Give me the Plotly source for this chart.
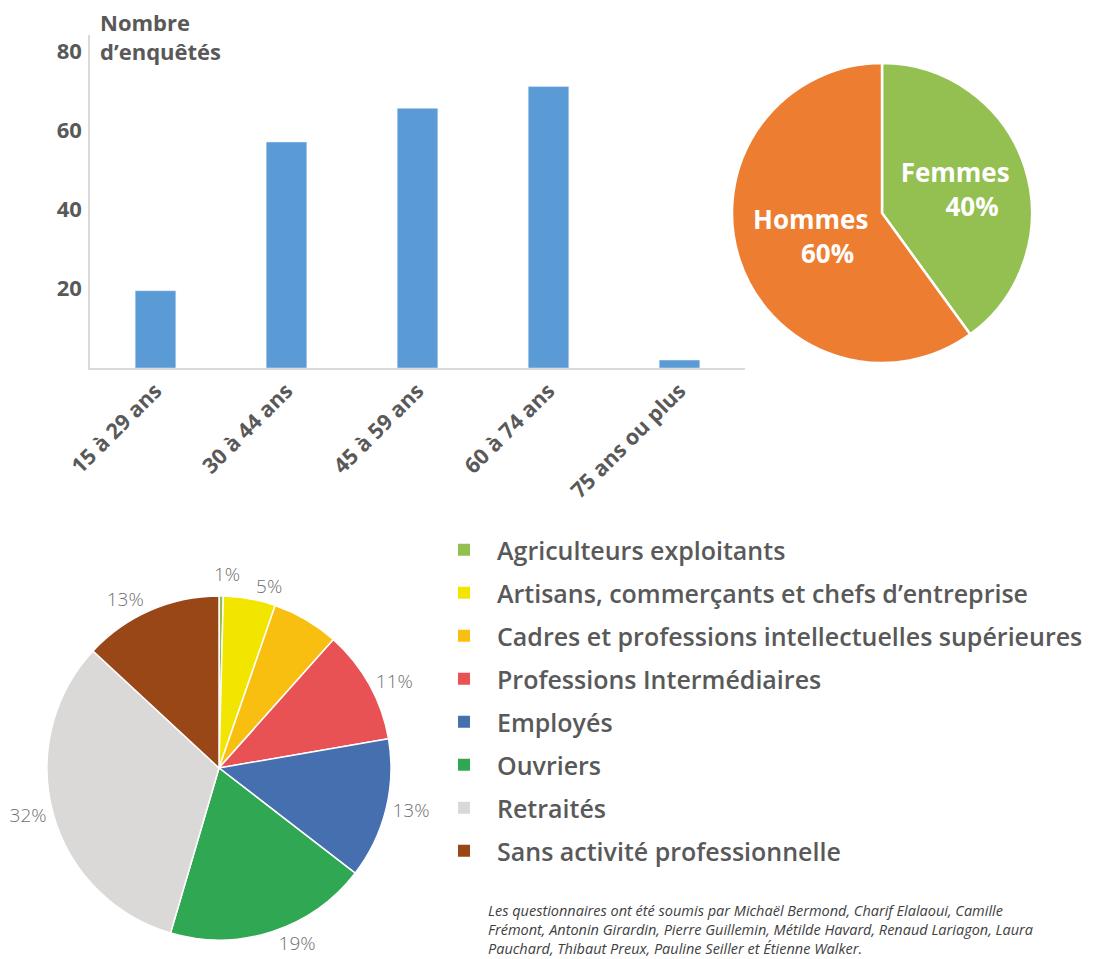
import math
import plotly.graph_objects as go

# ---- data ----
age_groups = ["15 à 29 ans", "30 à 44 ans", "45 à 59 ans", "60 à 74 ans", "75 ans ou plus"]
age_counts = [19.5, 57, 65.5, 71, 2]
y_ticks = [20, 40, 60, 80]

sex_labels = ["Femmes", "Hommes"]
sex_values = [40, 60]
sex_colors = ["#94c052", "#ed7d31"]

csp_labels = ["Agriculteurs exploitants",
              "Artisans, commerçants et chefs d’entreprise",
              "Cadres et professions intellectuelles supérieures",
              "Professions Intermédiaires",
              "Employés",
              "Ouvriers",
              "Retraités",
              "Sans activité professionnelle"]
csp_values = [0.4, 4.9, 6.3, 10.7, 13.2, 19.1, 32.4, 13.1]
csp_text = ["1%", "5%", "", "11%", "13%", "19%", "32%", "13%"]
csp_colors = ["#92c050", "#f2e500", "#f8bf10", "#e85254", "#466fb0", "#30a752", "#dbd9d7", "#9a4718"]

note = ("Les questionnaires ont été soumis par Michaël Bermond, Charif Elalaoui, Camille<br>"
        "Frémont, Antonin Girardin, Pierre Guillemin, Métilde Havard, Renaud Lariagon, Laura<br>"
        "Pauchard, Thibaut Preux, Pauline Seiller et Étienne Walker.")

# page offset (body margin) compensation
OFF = 8
W, H = 1103 - OFF, 959 - OFF
def px(x): return (x - OFF) / W
def py(y): return 1 - (y - OFF) / H

GRAY = "#595959"
FONT = "Open Sans"

# bottom pie geometry (pixels, reference coordinates)
PIE_L, PIE_R, PIE_T, PIE_B = 47, 391, 596, 940
PCX, PCY, PR = (PIE_L + PIE_R) / 2, (PIE_T + PIE_B) / 2, (PIE_R - PIE_L) / 2

# the thinnest slice's label is written beside the pie (no leader line)
pie_text = list(csp_text)
first_label = pie_text[0]
pie_text[0] = ""
mid_angle = math.radians(360 * (csp_values[0] / 2) / sum(csp_values))
lab_r = PR + 22
lab_x = PCX + lab_r * math.sin(mid_angle) + 6
lab_y = PCY - lab_r * math.cos(mid_angle)

fig = go.Figure()

fig.add_trace(go.Bar(
    x=age_groups, y=age_counts, marker_color="#5b9bd5", showlegend=False,
    xaxis="x", yaxis="y", hoverinfo="skip"))

fig.add_trace(go.Pie(
    labels=sex_labels, values=sex_values, sort=False, direction="clockwise",
    rotation=0, marker=dict(colors=sex_colors, line=dict(color="white", width=2.5)),
    texttemplate="%{label}<br>&nbsp;&nbsp;&nbsp;&nbsp;&nbsp;%{percent:.0%}", textposition="inside",
    insidetextorientation="horizontal",
    textfont=dict(family=FONT, size=26, color="white", weight="bold"),
    domain=dict(x=[px(732), px(1032)], y=[py(363), py(63)]),
    showlegend=False, hoverinfo="skip"))

fig.add_trace(go.Pie(
    labels=csp_labels, values=csp_values, sort=False, direction="clockwise",
    rotation=0, marker=dict(colors=csp_colors, line=dict(color="white", width=1.5)),
    text=pie_text, textinfo="text", textposition="outside",
    textfont=dict(family=FONT, size=19, color="#6f6f6f", weight=300),
    domain=dict(x=[px(PIE_L), px(PIE_R)], y=[py(PIE_B), py(PIE_T)]),
    showlegend=False, hoverinfo="skip"))

# legend entries (one per category, so that spacing can be controlled)
for lab, col in zip(csp_labels, csp_colors):
    fig.add_trace(go.Scatter(
        x=[None], y=[None], mode="markers", name=lab, legendgroup=lab,
        marker=dict(symbol="square", size=12, color=col),
        xaxis="x2", yaxis="y2", hoverinfo="skip"))

fig.update_layout(
    width=W, height=H, margin=dict(l=0, r=0, t=0, b=0, autoexpand=False),
    paper_bgcolor="white", plot_bgcolor="white",
    font=dict(family=FONT, color=GRAY),
    bargap=0.69,
    xaxis=dict(domain=[px(90), px(745)], showline=True, linecolor="#d9d9d9", linewidth=1.5,
               tickangle=-45, ticks="", showgrid=False, automargin=False,
               tickfont=dict(family=FONT, size=21.5, color=GRAY, weight="bold")),
    yaxis=dict(domain=[py(368), py(35)], range=[0, 84], showline=True, linecolor="#d9d9d9",
               linewidth=1.5, tickvals=y_ticks, ticks="", showgrid=False, zeroline=False,
               automargin=False, ticklabelstandoff=2,
               tickfont=dict(family=FONT, size=22, color=GRAY, weight="bold")),
    xaxis2=dict(domain=[0.99, 1.0], visible=False, automargin=False),
    yaxis2=dict(domain=[0.0, 0.01], visible=False, automargin=False, anchor="x2"),
    legend=dict(x=px(431), y=py(527), xanchor="left", yanchor="top",
                itemwidth=56, tracegroupgap=7.5,
                font=dict(family=FONT, size=25, color=GRAY, weight=600),
                bgcolor="rgba(0,0,0,0)", itemclick=False, itemdoubleclick=False),
    annotations=[
        dict(text="Nombre<br>d’enquêtés", x=px(98), y=py(5), xref="paper", yref="paper",
             xanchor="left", yanchor="top", align="left", showarrow=False,
             font=dict(family=FONT, size=22, color=GRAY, weight="bold")),
        dict(text=note, x=px(486), y=py(899), xref="paper", yref="paper",
             xanchor="left", yanchor="top", align="left", showarrow=False,
             font=dict(family=FONT, size=14.5, color="#404040", style="italic")),
        dict(text=first_label, x=px(lab_x), y=py(lab_y), xref="paper", yref="paper",
             xanchor="center", yanchor="middle", showarrow=False,
             font=dict(family=FONT, size=19, color="#6f6f6f", weight=300)),
    ],
)
fig.write_html("out.html")
